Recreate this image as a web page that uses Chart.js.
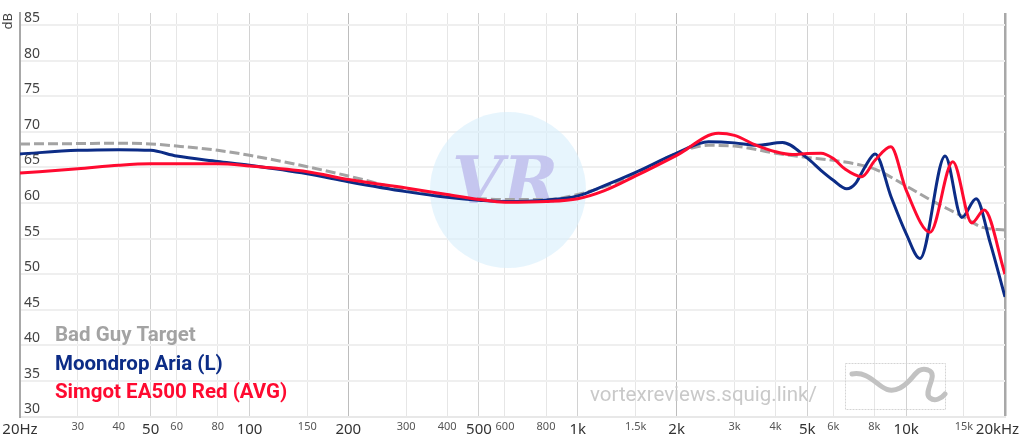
<!DOCTYPE html>
<html>
<head>
<meta charset="utf-8">
<script src="https://cdn.jsdelivr.net/npm/chart.js@4.4.0/dist/chart.umd.min.js"></script>
<style>
  html, body { margin: 0; padding: 0; background: #fff; }
  #wrap { width: 1024px; height: 443px; }
</style>
</head>
<body>
<div id="wrap"><canvas id="frChart" width="1024" height="443"></canvas></div>
<script>
// frequency response data (Hz / dB)
const targetFreq = [20, 30, 40, 50, 60, 80, 100, 150, 200, 300, 400, 500, 600, 800, 1000, 1500, 2000, 2500, 3000, 4000, 5000, 6000, 7000, 8000, 10000, 12000, 15000, 17000, 20000];
const targetDb   = [68.3, 68.35, 68.4, 68.3, 68.0, 67.4, 66.7, 65.1, 63.8, 61.8, 60.9, 60.6, 60.5, 60.5, 61.2, 64.0, 67.0, 68.1, 68.0, 67.0, 66.4, 66.0, 65.5, 64.8, 62.4, 60.3, 58.0, 56.6, 56.2];

const ariaFreq = [20, 30, 40, 50, 60, 80, 100, 150, 200, 300, 400, 500, 600, 800, 1000, 1200, 1500, 2000, 2500, 3000, 3500, 4200, 5000, 5500, 6000, 6590, 7000, 7500, 8040, 9000, 10000, 11020, 13140, 14770, 16330, 18000, 20000];
const ariaDb   = [66.9, 67.4, 67.5, 67.4, 66.6, 65.85, 65.3, 64.1, 63.0, 61.6, 60.8, 60.4, 60.2, 60.4, 61.0, 62.4, 64.3, 67.0, 68.6, 68.45, 68.1, 68.5, 66.3, 64.6, 63.2, 62.0, 62.7, 65.1, 66.9, 60.85, 55.7, 52.2, 66.6, 57.95, 60.6, 54.5, 46.8];

const ea500Freq = [20, 30, 40, 50, 60, 80, 100, 150, 200, 300, 400, 500, 600, 800, 1000, 1200, 1500, 2000, 2680, 3000, 3500, 4000, 4500, 5000, 5500, 6000, 6500, 7330, 8040, 8980, 10000, 11830, 13870, 15850, 17280, 20000];
const ea500Db   = [64.2, 64.8, 65.3, 65.5, 65.5, 65.5, 65.2, 64.4, 63.3, 62.1, 61.2, 60.5, 60.1, 60.2, 60.6, 61.7, 63.8, 66.7, 69.8, 69.5, 68.1, 67.2, 66.8, 66.95, 67.0, 66.25, 64.8, 63.7, 66.0, 67.9, 61.8, 55.9, 65.8, 57.2, 59.0, 50.0];

const seriesNames = ['Bad Guy Target', 'Moondrop Aria (L)', 'Simgot EA500 Red (AVG)'];

const xTickValues = [20, 30, 40, 50, 60, 80, 100, 150, 200, 300, 400, 500, 600, 800, 1000, 1500, 2000, 3000, 4000, 5000, 6000, 8000, 10000, 15000, 20000];
const xTickLabels = ['20Hz', '30', '40', '50', '60', '80', '100', '150', '200', '300', '400', '500', '600', '800', '1k', '1.5k', '2k', '3k', '4k', '5k', '6k', '8k', '10k', '15k', '20kHz\u2002\u2002'];
const xMajor = [20, 50, 100, 200, 500, 1000, 2000, 5000, 10000, 20000];
const yTickValues = [30, 35, 40, 45, 50, 55, 60, 65, 70, 75, 80, 85];

const toPoints = (fs, ds) => fs.map((f, i) => ({ x: f, y: ds[i] }));

const colors = {
    target: '#a3a3a3',
    aria: '#0c2c86',
    ea500: '#ff0a30'
};

// watermark, logo and legend text
const decorPlugin = {
    id: 'decor',
    beforeDatasetsDraw(chart) {
        const ctx = chart.ctx;
        ctx.save();
        ctx.fillStyle = 'rgba(215, 238, 251, 0.6)';
        ctx.beginPath();
        ctx.arc(508, 190, 78, 0, Math.PI * 2);
        ctx.fill();
        ctx.fillStyle = 'rgba(192, 190, 236, 0.85)';
        ctx.font = 'italic bold 66px "DejaVu Serif"';
        ctx.textAlign = 'center';
        ctx.textBaseline = 'middle';
        ctx.fillText('VR', 505, 186);
        ctx.restore();
    },
    afterDraw(chart) {
        const ctx = chart.ctx;
        ctx.save();
        // site watermark
        ctx.fillStyle = '#c9c9c9';
        ctx.font = '20.5px Roboto';
        ctx.textBaseline = 'middle';
        ctx.fillText('vortexreviews.squig.link/', 590, 396);
        // logo box
        ctx.strokeStyle = '#d4d4d4';
        ctx.lineWidth = 1;
        ctx.setLineDash([2, 1]);
        ctx.strokeRect(845.5, 363.5, 100, 46);
        ctx.setLineDash([]);
        ctx.strokeStyle = '#c2c2c2';
        ctx.lineWidth = 5;
        ctx.lineCap = 'round';
        ctx.beginPath();
        ctx.moveTo(852, 374);
        ctx.bezierCurveTo(875, 370, 880, 398, 900, 388);
        ctx.bezierCurveTo(915, 380, 915, 366, 928, 370);
        ctx.bezierCurveTo(940, 374, 922, 392, 930, 398);
        ctx.bezierCurveTo(935, 402, 942, 398, 945, 394);
        ctx.stroke();
        // legend
        ctx.font = 'bold 20.5px Roboto';
        const legendColors = [colors.target, colors.aria, colors.ea500];
        seriesNames.forEach((name, i) => {
            ctx.fillStyle = legendColors[i];
            ctx.fillText(name, 55, 336 + i * 28.6);
        });
        ctx.restore();
    }
};

const ctx = document.getElementById('frChart').getContext('2d');
const frChart = new Chart(ctx, {
    type: 'line',
    data: {
        datasets: [
            {
                label: seriesNames[2],
                data: toPoints(ea500Freq, ea500Db),
                borderColor: colors.ea500,
                borderWidth: 3,
                order: 0
            },
            {
                label: seriesNames[1],
                data: toPoints(ariaFreq, ariaDb),
                borderColor: colors.aria,
                borderWidth: 3,
                order: 1
            },
            {
                label: seriesNames[0],
                data: toPoints(targetFreq, targetDb),
                borderColor: colors.target,
                borderWidth: 3,
                borderDash: [10, 4],
                order: 2
            }
        ]
    },
    options: {
        responsive: false,
        animation: false,
        devicePixelRatio: 1,
        layout: { padding: { top: 13, right: 19, left: 0, bottom: 0 } },
        elements: {
            point: { radius: 0 },
            line: { cubicInterpolationMode: 'monotone', fill: false }
        },
        plugins: {
            legend: { display: false },
            tooltip: { enabled: false }
        },
        scales: {
            x: {
                type: 'logarithmic',
                min: 20,
                max: 20000,
                afterBuildTicks: s => { s.ticks = xTickValues.map(v => ({ value: v })); },
                afterFit: s => { s.height = 26.5; s.paddingLeft = 0; s.paddingRight = 0; },
                grid: {
                    drawTicks: false,
                    color: c => {
                        const v = c.tick && c.tick.value;
                        if (v === 20000) return '#a8a8a8';
                        if (v === 200 || v === 2000) return '#bdbdbd';
                        if (xMajor.includes(v)) return '#d2d2d2';
                        return '#e6e6e6';
                    },
                    lineWidth: c => (c.tick && c.tick.value === 20000) ? 2.5 : 1
                },
                border: { color: '#e8e8e8', width: 2 },
                ticks: {
                    autoSkip: false,
                    maxRotation: 0,
                    padding: 4,
                    callback: (v, i) => xTickLabels[i],
                    color: c => xMajor.includes(c.tick.value) ? '#333' : '#555',
                    font: c => xMajor.includes(c.tick.value)
                        ? { family: 'Noto Sans', size: 15 }
                        : { family: 'Noto Sans', size: 11 }
                }
            },
            y: {
                min: 30,
                max: 86.7,
                afterBuildTicks: s => { s.ticks = yTickValues.map(v => ({ value: v })); },
                afterFit: s => { s.width = 20; },
                grid: { drawTicks: false, color: '#efefef', lineWidth: 2 },
                border: { color: '#a8a8a8', width: 2 },
                title: {
                    display: true,
                    text: 'dB',
                    align: 'end',
                    color: '#444',
                    font: { family: 'Noto Sans', size: 13 },
                    padding: { top: 0, bottom: 0 }
                },
                ticks: {
                    mirror: true,
                    padding: 4,
                    labelOffset: -7,
                    color: '#444',
                    font: { family: 'Noto Sans', size: 14 }
                }
            }
        }
    },
    plugins: [decorPlugin]
});
</script>
</body>
</html>
